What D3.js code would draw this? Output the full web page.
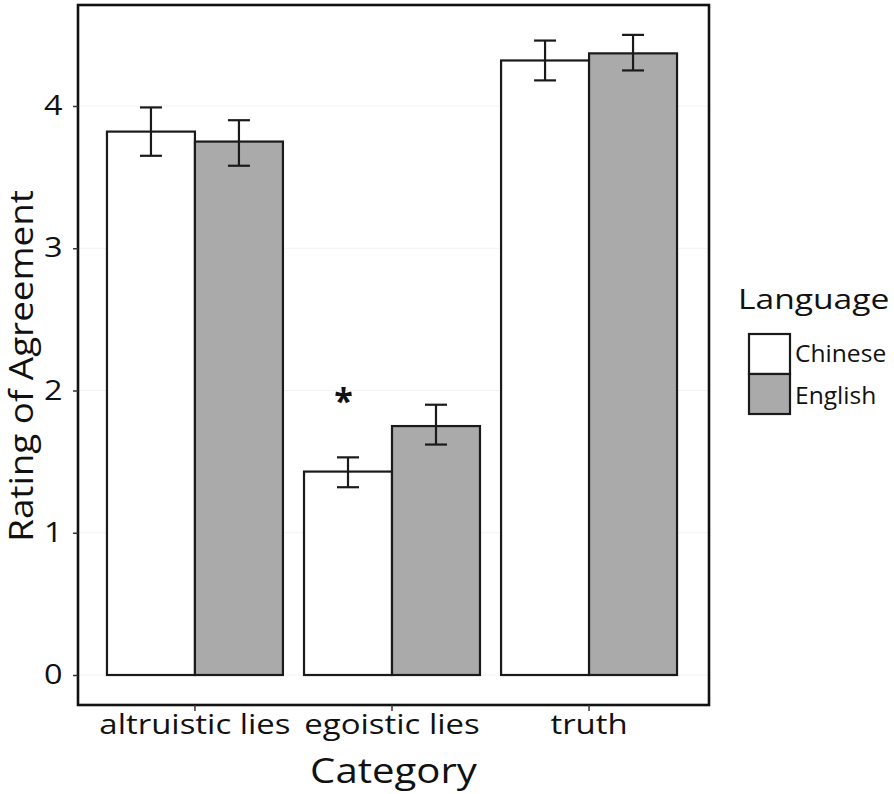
<!DOCTYPE html>
<html><head><meta charset="utf-8">
<script src="https://cdn.jsdelivr.net/npm/d3@7"></script>
<style>body{margin:0;background:#fff;} text{font-family:"Open Sans","Noto Sans",sans-serif;fill:#111;}</style>
</head><body><svg id="c" width="894" height="794"></svg>
<script>
const categories = ["altruistic lies","egoistic lies","truth"];
const languages = ["Chinese","English"];
const chineseMean = [3.82, 1.43, 4.32];
const chineseLo   = [3.65, 1.32, 4.18];
const chineseHi   = [3.99, 1.53, 4.46];
const englishMean = [3.75, 1.75, 4.37];
const englishLo   = [3.58, 1.62, 4.25];
const englishHi   = [3.90, 1.90, 4.50];
const yTicks = [0,1,2,3,4];
const fills = {Chinese:"#ffffff", English:"#aaaaaa"};

const data = [];
categories.forEach((c,i)=>{
  data.push({cat:c, lang:"Chinese", m:chineseMean[i], lo:chineseLo[i], hi:chineseHi[i]});
  data.push({cat:c, lang:"English", m:englishMean[i], lo:englishLo[i], hi:englishHi[i]});
});

const svg = d3.select("#c");
const L=78, R=709, T=5, B=705;
const x = d3.scaleBand().domain(categories).range([L, 706]).paddingInner(0.107).paddingOuter(0.147);
const xi = d3.scaleBand().domain(languages).range([0, x.bandwidth()]);
const y = d3.scaleLinear().domain([0,4]).range([675,106]);

// faint grid
svg.append("g").selectAll("line").data(yTicks).join("line")
  .attr("x1",L).attr("x2",R).attr("y1",d=>y(d)).attr("y2",d=>y(d))
  .attr("stroke","#f2f2f2").attr("stroke-width",1);

// bars
svg.append("g").selectAll("rect").data(data).join("rect")
  .attr("x",d=>x(d.cat)+xi(d.lang))
  .attr("width",xi.bandwidth())
  .attr("y",d=>y(d.m))
  .attr("height",d=>y(0)-y(d.m))
  .attr("fill",d=>fills[d.lang])
  .attr("stroke","#1a1a1a").attr("stroke-width",2.2);

// error bars
const eb = svg.append("g").attr("stroke","#1a1a1a").attr("stroke-width",2.2);
data.forEach(d=>{
  const cx = x(d.cat)+xi(d.lang)+xi.bandwidth()/2;
  const hw = xi.bandwidth()*0.125;
  eb.append("line").attr("x1",cx).attr("x2",cx).attr("y1",y(d.lo)).attr("y2",y(d.hi));
  eb.append("line").attr("x1",cx-hw).attr("x2",cx+hw).attr("y1",y(d.lo)).attr("y2",y(d.lo));
  eb.append("line").attr("x1",cx-hw).attr("x2",cx+hw).attr("y1",y(d.hi)).attr("y2",y(d.hi));
});

// significance asterisk
svg.append("text").attr("x",x("egoistic lies")+xi.bandwidth()*0.45).attr("y",y(1.92)+11)
  .attr("text-anchor","middle").attr("font-size",34).attr("font-weight","bold").text("*");

// panel border
svg.append("rect").attr("x",L).attr("y",T).attr("width",R-L).attr("height",B-T)
  .attr("fill","none").attr("stroke","#111").attr("stroke-width",2.6);

// y axis
const ya = svg.append("g").attr("transform",`translate(${L},0)`)
  .call(d3.axisLeft(y).tickValues(yTicks).tickSize(5).tickPadding(8).tickFormat(d3.format("d")));
ya.select(".domain").remove();
ya.selectAll("line").attr("stroke","#333").attr("stroke-width",1.5);
ya.selectAll("text").attr("font-size",27).attr("fill","#111").attr("transform","scale(1.2,1)")
  .style("font-family","'Open Sans','Noto Sans',sans-serif");

// x axis
const xa = svg.append("g").attr("transform",`translate(0,${B})`)
  .call(d3.axisBottom(x).tickSize(6).tickPadding(4));
xa.select(".domain").remove();
xa.selectAll("line").attr("stroke","#333").attr("stroke-width",1.5);
xa.selectAll("text").attr("font-size",27).attr("fill","#111").attr("transform","scale(1.22,1)")
  .style("font-family","'Open Sans','Noto Sans',sans-serif");

// axis titles
svg.append("text").attr("transform",`translate(${(L+R)/2},783) scale(1.18,1)`).attr("text-anchor","middle")
  .attr("font-size",34).text("Category");
svg.append("text").attr("transform","translate(33,366) rotate(-90) scale(1.15,1)").attr("text-anchor","middle")
  .attr("font-size",32).text("Rating of Agreement");

// legend
const lg = svg.append("g");
lg.append("text").attr("transform","translate(738,309) scale(1.2,1)").attr("font-size",28).text("Language");
languages.forEach((l,i)=>{
  lg.append("rect").attr("x",749).attr("y",334+i*40).attr("width",41).attr("height",40)
    .attr("fill",fills[l]).attr("stroke","#1a1a1a").attr("stroke-width",2.2);
  lg.append("text").attr("transform",`translate(795,${354+i*42}) scale(1.07,1)`).attr("dy","0.35em")
    .attr("font-size",23).text(l);
});
</script></body></html>
